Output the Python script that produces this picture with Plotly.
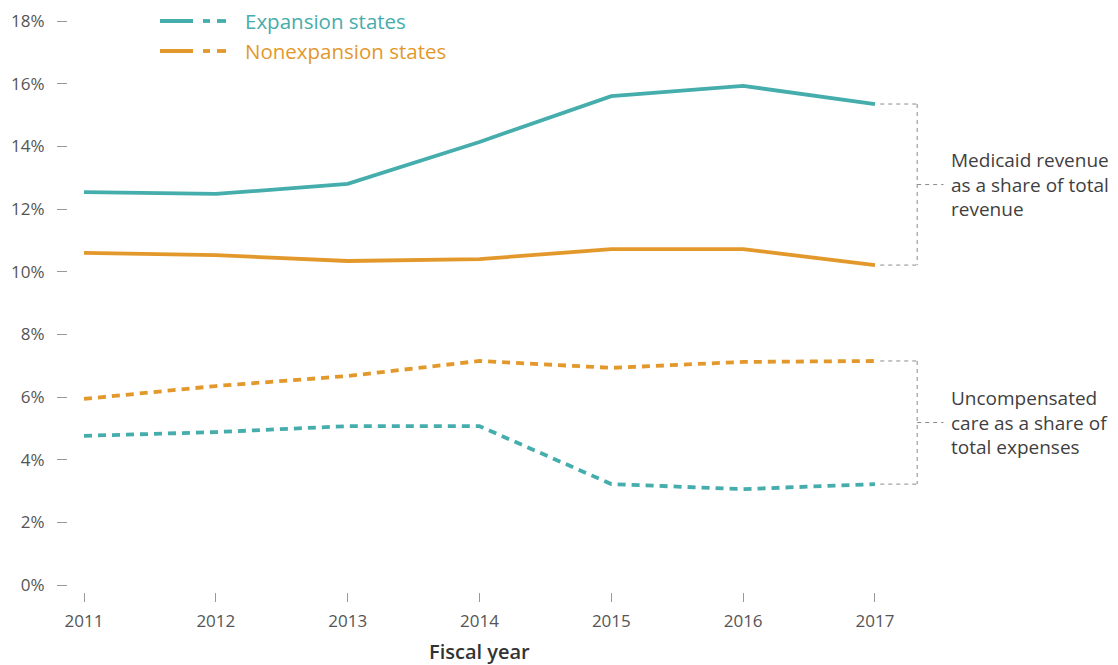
import plotly.graph_objects as go

years = [2011, 2012, 2013, 2014, 2015, 2016, 2017]
exp_medicaid = [12.54, 12.48, 12.80, 14.14, 15.60, 15.93, 15.35]
nonexp_medicaid = [10.60, 10.53, 10.34, 10.40, 10.72, 10.72, 10.21]
nonexp_uncomp = [5.94, 6.35, 6.67, 7.15, 6.93, 7.12, 7.15]
exp_uncomp = [4.76, 4.88, 5.07, 5.07, 3.22, 3.06, 3.22]

y_ticks = [0, 2, 4, 6, 8, 10, 12, 14, 16, 18]
y_labels = [f"{v}%" for v in y_ticks]
legend_labels = ["Expansion states", "Nonexpansion states"]
bracket_labels = ["Medicaid revenue<br>as a share of total<br>revenue",
                  "Uncompensated<br>care as a share of<br>total expenses"]
x_title = "Fiscal year"

TEAL = "#45adac"
ORANGE = "#e3982b"
FONT = "Open Sans"

fig = go.Figure()
series = [
    (exp_medicaid, TEAL, "solid"),
    (nonexp_medicaid, ORANGE, "solid"),
    (nonexp_uncomp, ORANGE, "8px,6px"),
    (exp_uncomp, TEAL, "8px,6px"),
]
for vals, col, dash in series:
    fig.add_trace(go.Scatter(x=years, y=vals, mode="lines",
                             line=dict(color=col, width=3.8, dash=dash),
                             showlegend=False, hoverinfo="skip", cliponaxis=False))

# Brackets
GRAY = "#8a8a8a"
xa, xb, xc = 2017.04, 2017.32, 2017.52
pairs = [(exp_medicaid[-1], nonexp_medicaid[-1]), (nonexp_uncomp[-1], exp_uncomp[-1])]
for (ya, yb), label in zip(pairs, bracket_labels):
    ln = dict(color=GRAY, width=1, dash="4px,4px")
    for yv in (ya, yb):
        fig.add_shape(type="line", xref="x", yref="y", x0=xa, x1=xb, y0=yv, y1=yv, line=ln)
    fig.add_shape(type="line", xref="x", yref="y", x0=xb, x1=xb, y0=ya, y1=yb, line=ln)
    ym = (ya + yb) / 2
    fig.add_shape(type="line", xref="x", yref="y", x0=xb, x1=xc, y0=ym, y1=ym, line=ln)
    fig.add_annotation(x=2017.565, y=ym, xref="x", yref="y", text=label, showarrow=False,
                       xanchor="left", yanchor="middle", align="left",
                       font=dict(family=FONT, size=19, color="#3f3f3f"))

# Custom legend
def px(x):
    return (x - 68) / 1050
def py(y):
    return (592 - y) / 582

for (label, col), yy in zip(zip(legend_labels, [TEAL, ORANGE]), [21, 51]):
    fig.add_shape(type="line", xref="paper", yref="paper", x0=px(160), x1=px(193),
                  y0=py(yy), y1=py(yy), line=dict(color=col, width=3.8))
    for a, b in [(203, 210), (217, 226)]:
        fig.add_shape(type="line", xref="paper", yref="paper", x0=px(a), x1=px(b),
                      y0=py(yy), y1=py(yy), line=dict(color=col, width=3.8))
    fig.add_annotation(x=px(243), y=py(yy), xref="paper", yref="paper", text=label,
                       showarrow=False, xanchor="left", yanchor="middle",
                       font=dict(family=FONT, size=20.5, color=col))

# x-axis title centred under 2014
fig.add_annotation(x=years[3], y=py(667), xref="x", yref="paper", text=x_title,
                   showarrow=False, xanchor="center", yanchor="bottom",
                   font=dict(family=FONT, size=20, color="#333333", weight=600))

x0 = 2011 - 16 / 131.83
x1 = 2011 + (1118 - 84) / 131.83
fig.update_layout(
    width=1118, height=665,
    margin=dict(l=68, r=0, t=10, b=73),
    paper_bgcolor="white", plot_bgcolor="white",
    font=dict(family=FONT, color="#555555"),
    xaxis=dict(range=[x0, x1], tickvals=years, ticktext=[str(y) for y in years],
               showgrid=False, zeroline=False, showline=False,
               ticks="outside", ticklen=9, tickcolor="#999999", tickwidth=1,
               ticklabelstandoff=5,
               tickfont=dict(family=FONT, size=17, color="#555555")),
    yaxis=dict(range=[-7 / 31.33, 18 + 11 / 31.33], tickvals=y_ticks, ticktext=y_labels,
               showgrid=False, zeroline=False, showline=False,
               ticks="outside", ticklen=10, tickcolor="#999999", tickwidth=1,
               ticklabelstandoff=9,
               tickfont=dict(family=FONT, size=17, color="#555555")),
)

fig.write_html("out.html", config={"displayModeBar": False},
               post_script="document.body.style.margin='0px';")
